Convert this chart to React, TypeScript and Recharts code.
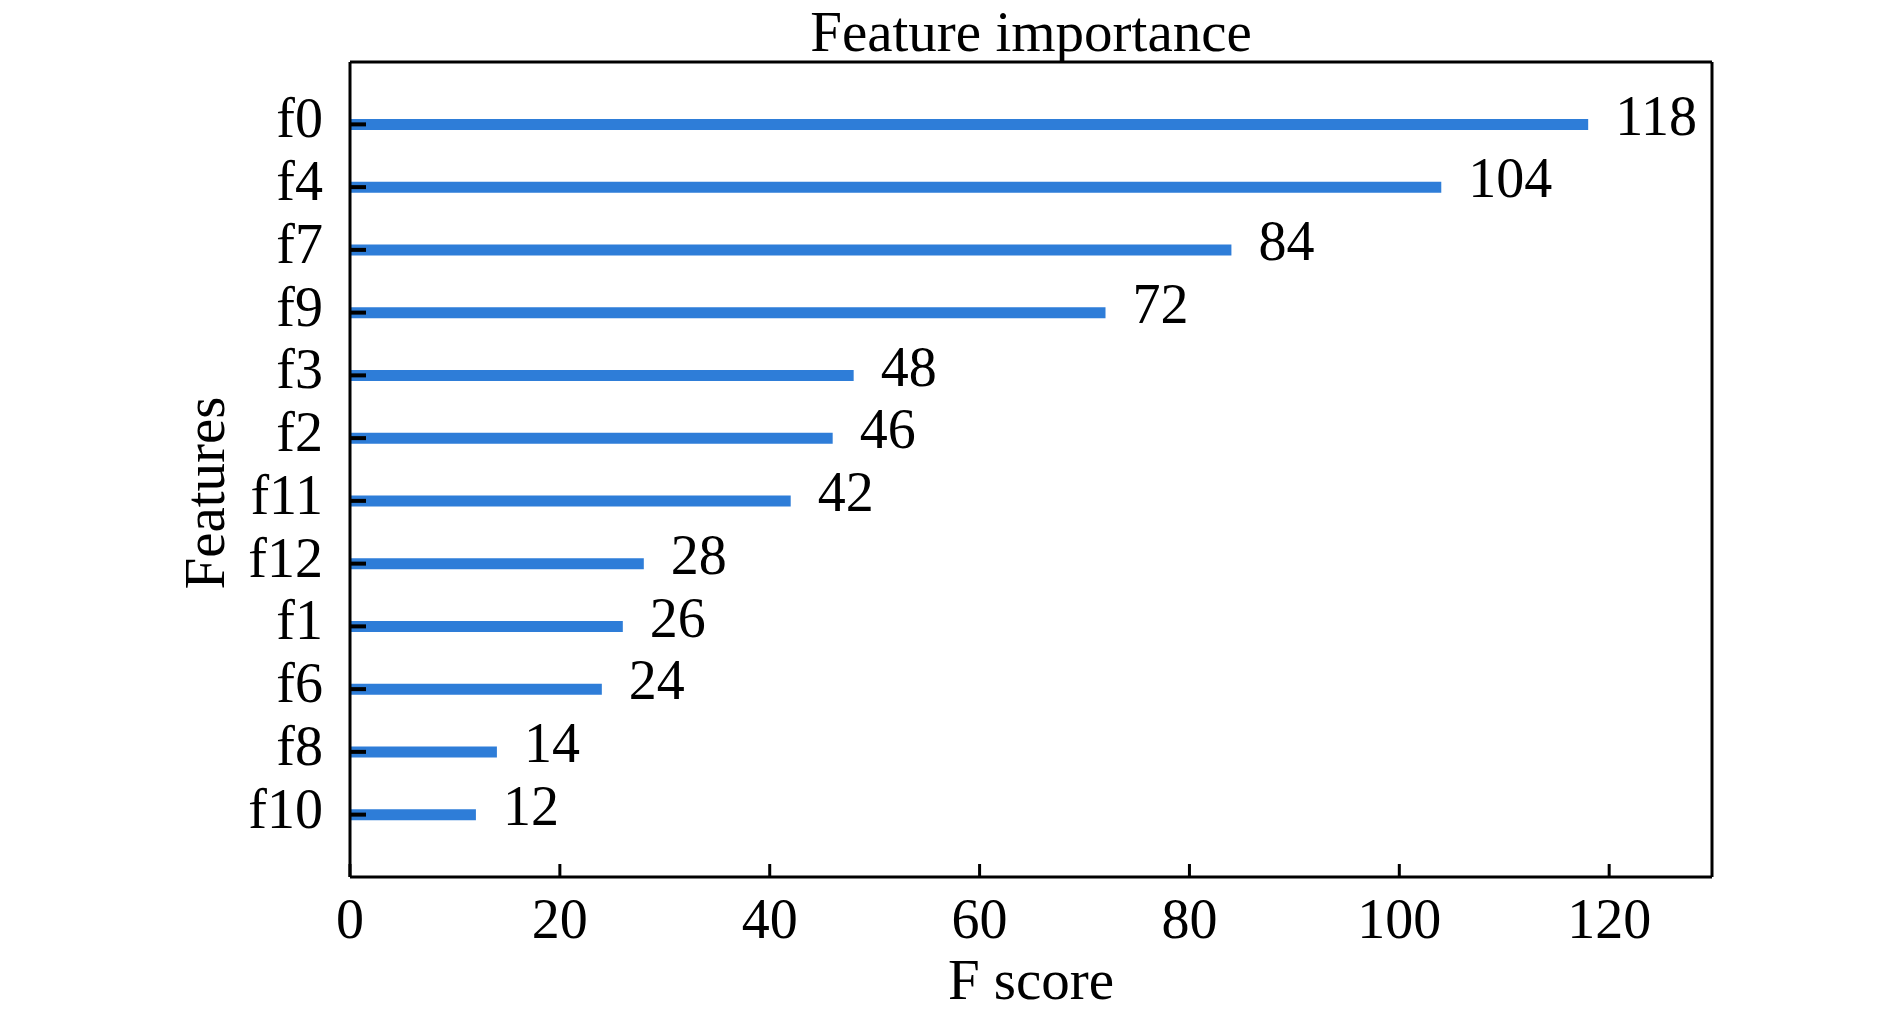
import { BarChart, Bar, XAxis, YAxis, LabelList } from 'recharts'

const features = ['f0', 'f4', 'f7', 'f9', 'f3', 'f2', 'f11', 'f12', 'f1', 'f6', 'f8', 'f10']
const fScores = [118, 104, 84, 72, 48, 46, 42, 28, 26, 24, 14, 12]
const xTicks = [0, 20, 40, 60, 80, 100, 120]

const FONT = '"Liberation Serif", "Times New Roman", serif'
const BAR_COLOR = '#2E7DD8'

const data = features.map((name, i) => ({ name, score: fScores[i] }))

const ValueLabel = (props: any) => {
  const { x, y, width, height, value } = props
  return (
    <text
      x={x + width + 27}
      y={y + height / 2 - 9}
      fontFamily={FONT}
      fontSize={56}
      fill="#000"
      dominantBaseline="central"
    >
      {value}
    </text>
  )
}

export default function App() {
  return (
    <div style={{ position: 'absolute', left: 0, top: 0, width: 1890, height: 1017, background: '#fff' }}>
      <BarChart
        width={1890}
        height={1017}
        data={data}
        layout="vertical"
        margin={{ top: 61, right: 177, left: 250, bottom: 139 }}
      >
        <XAxis
          type="number"
          dataKey="score"
          domain={[0, 129.8]}
          ticks={xTicks}
          height={1}
          axisLine={{ stroke: '#000', strokeWidth: 3 }}
          tickLine={{ stroke: '#000', strokeWidth: 3 }}
          tickSize={-13}
          tickMargin={34}
          tick={{ fontFamily: FONT, fontSize: 56, fill: '#000' }}
          label={(p: any) => (
            <text
              x={p.viewBox.x + p.viewBox.width / 2}
              y={999}
              textAnchor="middle"
              fontFamily={FONT}
              fontSize={57}
              fill="#000"
            >
              F score
            </text>
          )}
        />
        <XAxis
          xAxisId="top"
          orientation="top"
          type="number"
          dataKey="score"
          domain={[0, 129.8]}
          height={1}
          tick={false}
          tickLine={false}
          axisLine={{ stroke: '#000', strokeWidth: 3 }}
          label={(p: any) => (
            <text
              x={p.viewBox.x + p.viewBox.width / 2}
              y={51}
              textAnchor="middle"
              fontFamily={FONT}
              fontSize={57}
              fill="#000"
            >
              Feature importance
            </text>
          )}
        />
        <YAxis
          type="category"
          dataKey="name"
          width={100}
          padding={{ top: 31, bottom: 31 }}
          axisLine={{ stroke: '#000', strokeWidth: 3 }}
          tickLine={{ stroke: '#000', strokeWidth: 4 }}
          tickSize={-16}
          tickMargin={43}
          interval={0}
          tick={{ fontFamily: FONT, fontSize: 56, fill: '#000', dy: -7 }}
          label={() => (
            <text
              x={0}
              y={0}
              transform="translate(224, 493) rotate(-90)"
              textAnchor="middle"
              fontFamily={FONT}
              fontSize={57}
              fill="#000"
            >
              Features
            </text>
          )}
        />
        <YAxis
          yAxisId="right"
          orientation="right"
          type="category"
          dataKey="name"
          width={1}
          tick={false}
          tickLine={false}
          axisLine={{ stroke: '#000', strokeWidth: 3 }}
        />
        <Bar dataKey="score" fill={BAR_COLOR} barSize={11} isAnimationActive={false}>
          <LabelList dataKey="score" content={ValueLabel} />
        </Bar>
      </BarChart>
    </div>
  )
}
